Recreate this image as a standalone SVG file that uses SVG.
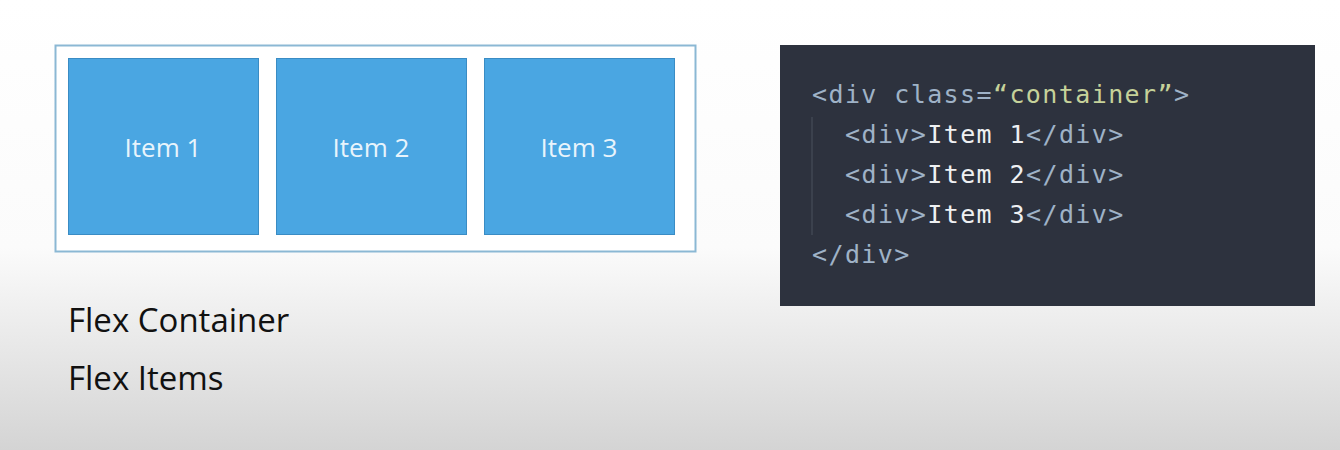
<svg xmlns="http://www.w3.org/2000/svg" width="1340" height="450" viewBox="0 0 1340 450">
<defs>
<linearGradient id="bg" x1="0" y1="0" x2="0" y2="1">
<stop offset="0" stop-color="#ffffff"/><stop offset="0.55" stop-color="#fbfbfb"/><stop offset="1" stop-color="#d4d4d4"/>
</linearGradient>
<style>
.item{fill:#4aa6e2;stroke:#3a8cc4;stroke-width:1}
.it{font-family:"Open Sans","Liberation Sans",sans-serif;font-size:26px;fill:#e8f4fc;text-anchor:middle}
.code{font-family:"DejaVu Sans Mono","Liberation Mono",monospace;font-size:25px;letter-spacing:1.4px}
.tag{fill:#9fb2c7}.str{fill:#c6d29a}.txt{fill:#eef0f2}
.lbl{font-family:"Open Sans","Liberation Sans",sans-serif;font-size:33px;fill:#111}
</style>
</defs>
<rect width="1340" height="450" fill="url(#bg)"/>
<g id="container"><rect x="55.5" y="45.5" width="640" height="206" fill="#fff" stroke="#8bb8d4" stroke-width="2"/></g>
<g id="item1"><rect class="item" x="68.5" y="58.5" width="190" height="176"/><text class="it" x="163" y="157">Item 1</text></g>
<g id="item2"><rect class="item" x="276.5" y="58.5" width="190" height="176"/><text class="it" x="371" y="157">Item 2</text></g>
<g id="item3"><rect class="item" x="484.5" y="58.5" width="190" height="176"/><text class="it" x="579" y="157">Item 3</text></g>
<g id="code">
<rect x="780" y="45" width="535" height="261" fill="#2d323e"/>
<line x1="812" y1="117" x2="812" y2="235" stroke="#4a505c" stroke-width="1"/>
<text class="code" x="812" y="103"><tspan class="tag">&lt;div class=</tspan><tspan class="str">“container”</tspan><tspan class="tag">&gt;</tspan></text>
<text class="code" x="845" y="143"><tspan class="tag">&lt;div&gt;</tspan><tspan class="txt">Item 1</tspan><tspan class="tag">&lt;/div&gt;</tspan></text>
<text class="code" x="845" y="183"><tspan class="tag">&lt;div&gt;</tspan><tspan class="txt">Item 2</tspan><tspan class="tag">&lt;/div&gt;</tspan></text>
<text class="code" x="845" y="223"><tspan class="tag">&lt;div&gt;</tspan><tspan class="txt">Item 3</tspan><tspan class="tag">&lt;/div&gt;</tspan></text>
<text class="code" x="812" y="263"><tspan class="tag">&lt;/div&gt;</tspan></text>
</g>
<g id="labels">
<text class="lbl" x="68" y="332">Flex Container</text>
<text class="lbl" x="68" y="390">Flex Items</text>
</g>
<g id="connectors"/>
</svg>
